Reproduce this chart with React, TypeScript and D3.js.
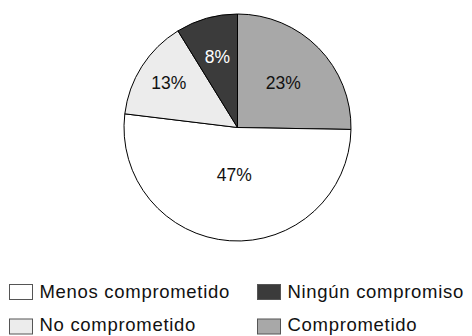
import React from "react";
import * as d3 from "d3";

// Shares of respondents by level of commitment
const categories = ["Comprometido", "Menos comprometido", "No comprometido", "Ningún compromiso"];
const values = [23, 47, 13, 8];
const fills = ["#a8a8a8", "#ffffff", "#ececec", "#3b3b3b"];
const labelColors = ["#111111", "#111111", "#111111", "#ffffff"];

// Legend order (rows left-to-right, top-to-bottom)
const legendOrder = ["Menos comprometido", "Ningún compromiso", "No comprometido", "Comprometido"];

const W = 472;
const H = 336;
const cx = 237.5;
const cy = 127.5;
const R = 113.5;
// radial placement of each percentage label, as a fraction of the radius
const labelRadiusFrac = [0.565, 0.42, 0.72, 0.65];

const FONT = "'Liberation Sans', Arial, Helvetica, sans-serif";

export default function App() {
  const pie = d3
    .pie<number>()
    .sort(null)
    .value((d) => d)
    .startAngle(0)
    .endAngle(2 * Math.PI);
  const arcs = pie(values);
  const arc = d3.arc<d3.PieArcDatum<number>>().innerRadius(0).outerRadius(R);

  const legendX = [9.5, 257.5];
  const swatchY = [284.5, 319];
  const textY = [298, 330.5];

  return (
    <svg
      width={W}
      height={H}
      style={{ position: "absolute", left: 0, top: 0, background: "#fff" }}
      fontFamily={FONT}
    >
      <g transform={`translate(${cx},${cy})`}>
        {arcs.map((a, i) => (
          <path key={i} d={arc(a) || ""} fill={fills[i]} stroke="#000" strokeWidth={1} />
        ))}
        {arcs.map((a, i) => {
          const mid = (a.startAngle + a.endAngle) / 2;
          const r = R * labelRadiusFrac[i];
          const x = r * Math.sin(mid);
          const y = -r * Math.cos(mid);
          return (
            <text
              key={i}
              x={x}
              y={y}
              textAnchor="middle"
              dominantBaseline="central"
              fontSize={17.5}
              fill={labelColors[i]}
            >
              {values[i]}%
            </text>
          );
        })}
      </g>
      {legendOrder.map((name, k) => {
        const idx = categories.indexOf(name);
        const col = k % 2;
        const row = Math.floor(k / 2);
        const x = legendX[col];
        return (
          <g key={name}>
            <rect x={x} y={swatchY[row]} width={23} height={15} fill={fills[idx]} stroke="#555" strokeWidth={1} />
            <text x={x + 30} y={textY[row]} fontSize={18.5} fill="#111" letterSpacing={0.7}>
              {name}
            </text>
          </g>
        );
      })}
    </svg>
  );
}
